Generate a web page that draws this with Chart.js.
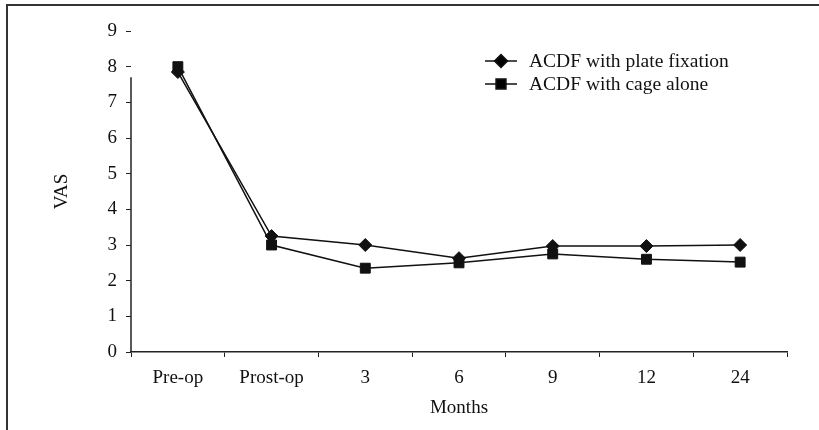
<!DOCTYPE html>
<html>
<head>
<meta charset="utf-8">
<script src="https://cdn.jsdelivr.net/npm/chart.js@4"></script>
<style>
  html, body { margin: 0; padding: 0; background: #fff; }
  #wrap { position: relative; width: 819px; height: 430px; }
  #frame { position: absolute; left: 6px; top: 4px; right: 0; bottom: -2px; border-left: 2px solid #333; border-top: 2px solid #333; pointer-events: none; }
  canvas { position: absolute; left: 0; top: 0; }
</style>
</head>
<body>
<div id="wrap">
  <canvas id="c" width="819" height="430"></canvas>
  <div id="frame"></div>
</div>
<script>
const categories = ["Pre-op", "Prost-op", "3", "6", "9", "12", "24"];
const plateFixation = [7.85, 3.25, 3.0, 2.63, 2.97, 2.97, 3.0];
const cageAlone = [8.0, 3.0, 2.35, 2.5, 2.75, 2.6, 2.52];
const seriesNames = ["ACDF with plate fixation", "ACDF with cage alone"];
const yTicks = [0, 1, 2, 3, 4, 5, 6, 7, 8, 9];
const xTitle = "Months";
const yTitle = "VAS";
const yAxisLineTop = 7.7;

const FONT = "'Liberation Serif', 'DejaVu Serif', serif";

const legendPlugin = {
  id: 'customLegend',
  afterDraw(chart) {
    const ctx = chart.ctx;
    const rows = [61, 84];
    chart.data.datasets.forEach((ds, i) => {
      const y = rows[i];
      ctx.save();
      ctx.strokeStyle = '#111';
      ctx.lineWidth = 1.5;
      ctx.beginPath();
      ctx.moveTo(485, y);
      ctx.lineTo(517, y);
      ctx.stroke();
      Chart.helpers.drawPoint(ctx, {
        pointStyle: ds.pointStyle,
        radius: ds.pointRadius,
        borderWidth: 1
      }, 501, y);
      ctx.fillStyle = '#111';
      ctx.font = "19.5px " + FONT;
      ctx.textBaseline = 'middle';
      ctx.textAlign = 'left';
      ctx.fillText(ds.label, 529, y + 1);
      ctx.restore();
    });
  }
};

const yAxisLinePlugin = {
  id: 'yAxisLine',
  afterDraw(chart) {
    const ys = chart.scales.y;
    const ctx = chart.ctx;
    const x = chart.chartArea.left;
    ctx.save();
    ctx.strokeStyle = '#222';
    ctx.lineWidth = 1.5;
    ctx.beginPath();
    ctx.moveTo(x, ys.getPixelForValue(yAxisLineTop));
    ctx.lineTo(x, ys.getPixelForValue(0));
    ctx.stroke();
    ctx.restore();
  }
};

new Chart(document.getElementById('c'), {
  type: 'line',
  data: {
    labels: categories,
    datasets: [
      {
        label: seriesNames[0],
        data: plateFixation,
        borderColor: '#111',
        backgroundColor: '#111',
        borderWidth: 1.5,
        pointStyle: 'rectRot',
        pointRadius: 6.5,
        pointBorderWidth: 1,
        tension: 0
      },
      {
        label: seriesNames[1],
        data: cageAlone,
        borderColor: '#111',
        backgroundColor: '#111',
        borderWidth: 1.5,
        pointStyle: 'rect',
        pointRadius: 7,
        pointBorderWidth: 1,
        tension: 0
      }
    ]
  },
  options: {
    responsive: false,
    animation: false,
    devicePixelRatio: 1,
    layout: { padding: { left: 0, right: 32, top: 31, bottom: 0 } },
    plugins: { legend: { display: false }, tooltip: { enabled: false } },
    scales: {
      x: {
        type: 'category',
        offset: true,
        grid: { offset: true, drawOnChartArea: false, drawTicks: true, tickLength: 5, color: '#222', lineWidth: 1 },
        border: { display: true, color: '#222', width: 1.5 },
        ticks: { color: '#111', font: { family: FONT, size: 19 }, padding: 10, maxRotation: 0, autoSkip: false },
        title: { display: true, text: xTitle, color: '#111', font: { family: FONT, size: 19 }, padding: { top: 0, bottom: 11 } },
        afterFit(scale) { scale.height = 78; }
      },
      y: {
        min: 0,
        max: 9,
        afterBuildTicks(scale) { scale.ticks = yTicks.map(v => ({ value: v })); },
        grid: { drawOnChartArea: false, drawTicks: true, tickLength: 5, color: '#222', lineWidth: 1 },
        border: { display: false },
        ticks: { color: '#111', font: { family: FONT, size: 19 }, padding: 9 },
        title: { display: true, text: yTitle, color: '#111', font: { family: FONT, size: 19 }, padding: { top: 51, bottom: 0 } },
        afterFit(scale) { scale.width = 131; }
      }
    }
  },
  plugins: [legendPlugin, yAxisLinePlugin]
});
</script>
</body>
</html>
